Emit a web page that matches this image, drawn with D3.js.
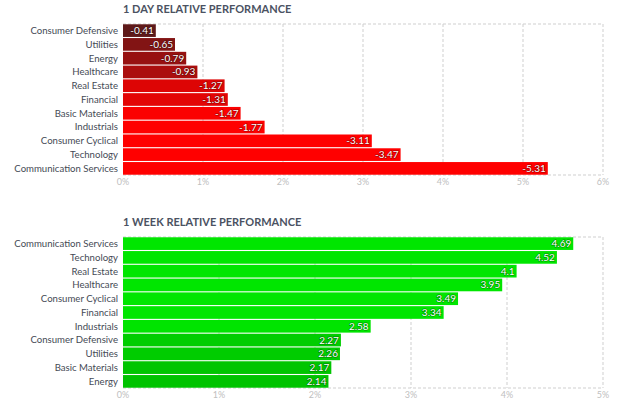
<!DOCTYPE html>
<html>
<head>
<meta charset="utf-8">
<script src="https://cdn.jsdelivr.net/npm/d3@7"></script>
<style>
  body { margin: 0; background: #fff; font-family: Lato, "Open Sans", sans-serif; }
  .grid line { stroke: #cfcfcf; stroke-dasharray: 3,2; }
  .val { fill: #fff; font-size: 10px; paint-order: stroke; stroke: rgba(0,0,0,0.4); stroke-width: 1.2px; }
</style>
</head>
<body>
<div id="chart"></div>
<script>
// 1 day data (values shown as negatives, bar length = magnitude)
const dayCats = ['Consumer Defensive', 'Utilities', 'Energy', 'Healthcare', 'Real Estate', 'Financial', 'Basic Materials', 'Industrials', 'Consumer Cyclical', 'Technology', 'Communication Services'];
const dayVals = [-0.41, -0.65, -0.79, -0.93, -1.27, -1.31, -1.47, -1.77, -3.11, -3.47, -5.31];
const dayTicks = [0, 1, 2, 3, 4, 5, 6];

// 1 week data
const weekCats = ['Communication Services', 'Technology', 'Real Estate', 'Healthcare', 'Consumer Cyclical', 'Financial', 'Industrials', 'Consumer Defensive', 'Utilities', 'Basic Materials', 'Energy'];
const weekVals = [4.69, 4.52, 4.1, 3.95, 3.49, 3.34, 2.58, 2.27, 2.26, 2.17, 2.14];
const weekTicks = [0, 1, 2, 3, 4, 5];

const W = 625, H = 407;
const svg = d3.select("#chart").append("svg").attr("width", W).attr("height", H);

const left = 123, right = 603;

function drawPanel(opts) {
    const g = svg.append("g");
    const x = d3.scaleLinear().domain([0, d3.max(opts.ticks)]).range([left, right]);
    const y = d3.scaleBand().domain(opts.cats).range([opts.top, opts.bottom]).paddingInner(0.08).paddingOuter(0.02);

    // title
    g.append("text")
        .attr("x", left).attr("y", opts.top - 11)
        .style("font-size", "11px").style("font-weight", "bold")
        .style("fill", "#4b5262")
        .text(opts.title);

    // grid
    const grid = g.append("g").attr("class", "grid");
    opts.ticks.forEach(t => {
        if (t === 0) return;
        grid.append("line").attr("x1", x(t)).attr("x2", x(t)).attr("y1", opts.top).attr("y2", opts.bottom);
    });
    grid.append("line").attr("x1", left).attr("x2", right).attr("y1", opts.top).attr("y2", opts.top);
    grid.append("line").attr("x1", left).attr("x2", right).attr("y1", opts.bottom).attr("y2", opts.bottom);

    // bars
    opts.cats.forEach((c, i) => {
        const v = opts.vals[i];
        const a = Math.abs(v);
        g.append("rect")
            .attr("x", x(0)).attr("y", y(c))
            .attr("width", x(a) - x(0)).attr("height", y.bandwidth())
            .style("fill", opts.color(a));
        g.append("text")
            .attr("class", "val")
            .attr("x", x(a) - 2).attr("y", y(c) + y.bandwidth() / 2)
            .attr("dy", "0.35em").attr("text-anchor", "end")
            .text(v);
        g.append("text")
            .attr("x", left - 5).attr("y", y(c) + y.bandwidth() / 2)
            .attr("dy", "0.35em").attr("text-anchor", "end")
            .style("font-size", "9.6px").style("fill", "#454a55")
            .text(c);
    });

    // tick labels
    opts.ticks.forEach(t => {
        g.append("text")
            .attr("x", x(t)).attr("y", opts.bottom + 10)
            .attr("text-anchor", "middle")
            .style("font-size", "9px").style("fill", "#c0c0c0")
            .text(t + "%");
    });
}

const redScale = d3.scaleLinear().domain([0.41, 1.5]).range(["#5f1a1a", "#ff0000"]).clamp(true);
const greenScale = d3.scaleLinear().domain([2.1, 2.6]).range(["#00c000", "#00e600"]).clamp(true);

drawPanel({ title: "1 DAY RELATIVE PERFORMANCE", cats: dayCats, vals: dayVals, ticks: dayTicks, top: 24, bottom: 175, color: redScale });
drawPanel({ title: "1 WEEK RELATIVE PERFORMANCE", cats: weekCats, vals: weekVals, ticks: weekTicks, top: 237, bottom: 388, color: greenScale });
</script>
</body>
</html>
